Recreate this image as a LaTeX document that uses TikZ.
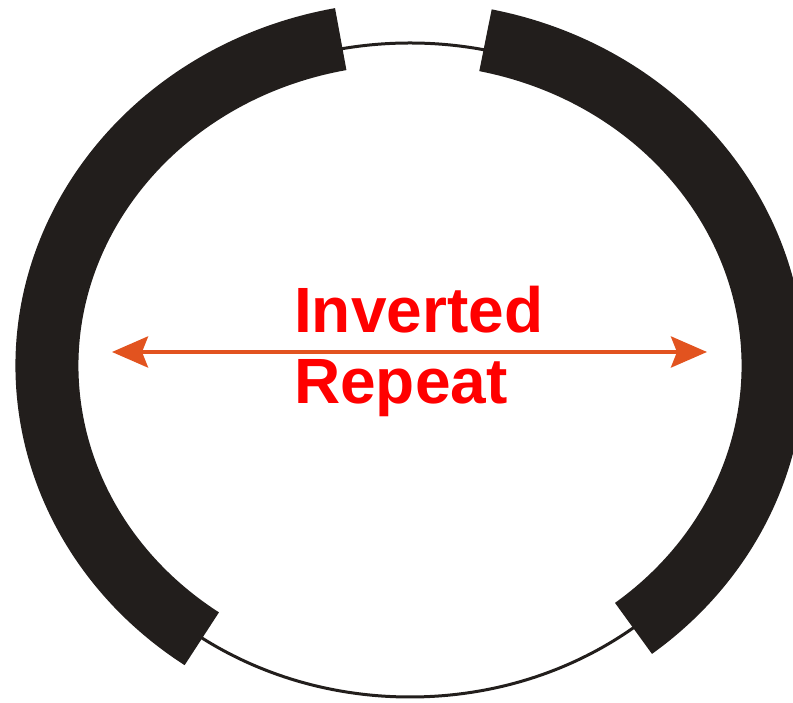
\documentclass[tikz,border=0pt]{standalone}
\usepackage{fontspec}
\setmainfont{Liberation Sans}
\usetikzlibrary{arrows.meta}
\definecolor{plasmid}{HTML}{221E1C}
\definecolor{irarrow}{HTML}{E2531F}
\definecolor{irtext}{HTML}{FF0000}
\tikzset{
	backbone/.style={plasmid, line width=3pt},
	segment/.style={plasmid, line width=63pt},
	irline/.style={irarrow, line width=4pt,
		{Stealth[length=36pt, width=31pt, inset=6pt]}-{Stealth[length=36pt, width=31pt, inset=6pt]}},
	irlabel/.style={anchor=base west, inner sep=0pt, text=irtext, font=\bfseries\fontsize{64}{71}\selectfont}
}
\begin{document}
\begin{tikzpicture}[x=1pt, y=1pt]
	\useasboundingbox (0,0) rectangle (793,703);
	\clip (0,0) rectangle (793,703);
	\coordinate (c) at (410,333);
	\coordinate (cs) at (410,337);
	% thin ring
	\draw[backbone] (c) ellipse[x radius=363, y radius=327];
	% thick segments
	\draw[segment] (cs) ++(101:363 and 333) 
	arc[start angle=101, end angle=235, x radius=363, y radius=333];
	\draw[segment] (cs) ++(78:363 and 333) 
	arc[start angle=78, end angle=-52, x radius=363, y radius=333];
	% inverted repeat arrow
	\coordinate (irL) at (112,351);
	\coordinate (irR) at (707,351);
	\draw[irline] (irL) -- (irR);
	\node[irlabel] (inv) at (294,370) {Inverted};
	\node[irlabel] (rep) at (294,299) {Repeat};
\end{tikzpicture}
\end{document}
